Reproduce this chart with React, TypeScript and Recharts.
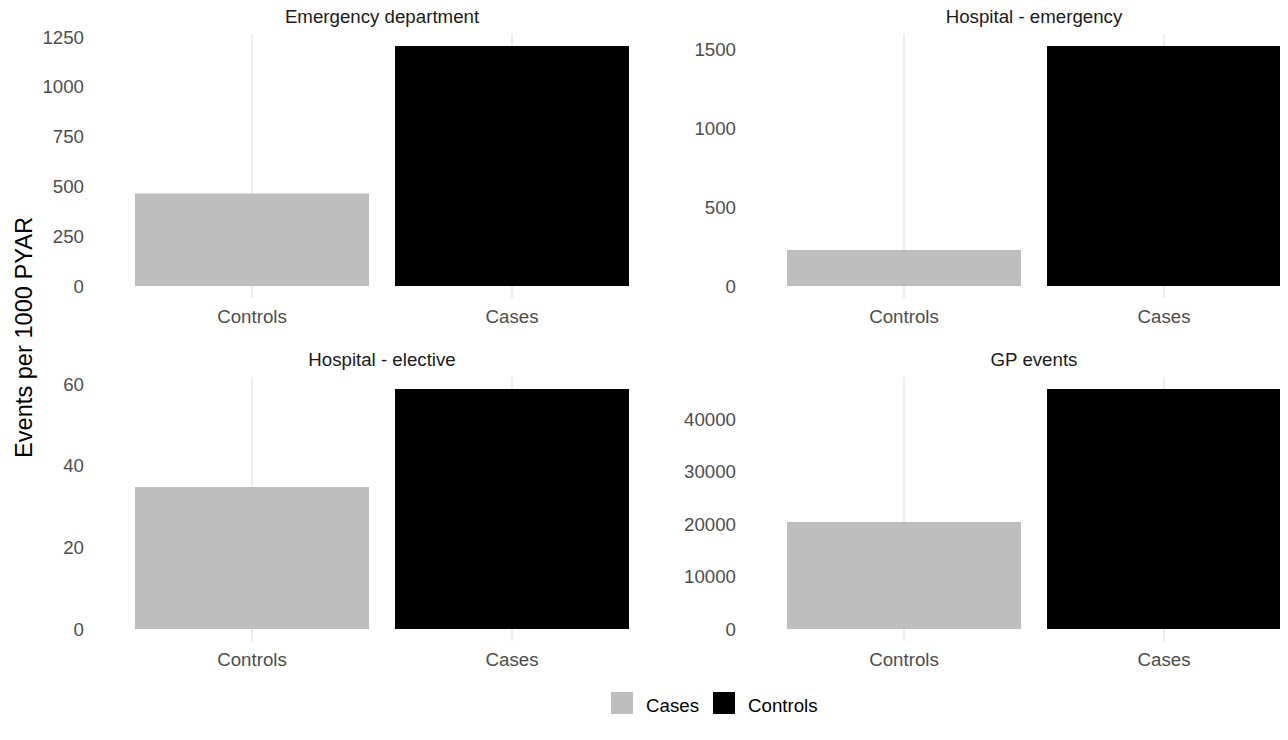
import React from "react";
import { BarChart, Bar, XAxis, YAxis, CartesianGrid, Cell } from "recharts";

// facet panels (ggplot facet_wrap, free y scales)
const groups = ["Controls", "Cases"];
const barColors = ["#BEBEBE", "#000000"];

const edValues = [464, 1205];
const hospEmergencyValues = [228, 1519];
const hospElectiveValues = [34.8, 58.8];
const gpValues = [20420, 45800];

const edTicks = [0, 250, 500, 750, 1000, 1250];
const hospEmergencyTicks = [0, 500, 1000, 1500];
const hospElectiveTicks = [0, 20, 40, 60];
const gpTicks = [0, 10000, 20000, 30000, 40000];

const legendLabels = ["Cases", "Controls"];

const FONT = "'Liberation Sans', Arial, sans-serif";
const PANEL_W = 572;
const AXIS_W = 96;
const CHART_H = 328;

function Panel({ values, ticks }: { values: number[]; ticks: number[] }) {
  const data = groups.map((g, i) => ({ group: g, value: values[i] }));
  const max = Math.max(...values);
  const pad = max * 0.05;
  return (
    <BarChart
      width={AXIS_W + PANEL_W}
      height={CHART_H}
      data={data}
      margin={{ top: 34, right: 0, bottom: 0, left: 0 }}
      barCategoryGap="5%"
    >
      <CartesianGrid
        horizontal={false}
        syncWithTicks
        stroke="#EBEBEB"
        strokeWidth={1.8}
      />
      <XAxis
        dataKey="group"
        height={30}
        padding={{ left: 26, right: 26 }}
        axisLine={false}
        tickLine={false}
        tickSize={0}
        tickMargin={12}
        tick={{ fill: "#4D4D4D", fontSize: 18.7, fontFamily: FONT }}
      />
      <YAxis
        type="number"
        width={AXIS_W}
        domain={[-pad, max + pad]}
        allowDataOverflow
        ticks={ticks}
        axisLine={false}
        tickLine={false}
        tickSize={0}
        tickMargin={12}
        tick={{ fill: "#4D4D4D", fontSize: 18.7, fontFamily: FONT }}
      />
      <Bar dataKey="value" isAnimationActive={false}>
        {data.map((d, i) => (
          <Cell key={d.group} fill={barColors[i]} />
        ))}
      </Bar>
    </BarChart>
  );
}

export default function App() {
  const place = (left: number, top: number): React.CSSProperties => ({
    position: "absolute",
    left,
    top,
  });
  return (
    <div
      style={{
        position: "relative",
        width: 1288,
        height: 740,
        margin: -8,
        overflow: "hidden",
        background: "#fff",
        fontFamily: FONT,
      }}
    >
      <div style={place(0, 0)}>
        <Panel values={edValues} ticks={edTicks} />
      </div>
      <div style={place(652, 0)}>
        <Panel values={hospEmergencyValues} ticks={hospEmergencyTicks} />
      </div>
      <div style={place(0, 343)}>
        <Panel values={hospElectiveValues} ticks={hospElectiveTicks} />
      </div>
      <div style={place(652, 343)}>
        <Panel values={gpValues} ticks={gpTicks} />
      </div>

      <svg
        width={1320}
        height={740}
        style={{ position: "absolute", left: 0, top: 0, pointerEvents: "none" }}
        fontFamily={FONT}
      >
        <g fontSize={18.7} fill="#1A1A1A" textAnchor="middle">
          <text x={382} y={23.3}>Emergency department</text>
          <text x={1034} y={23.3}>Hospital - emergency</text>
          <text x={382} y={366.3}>Hospital - elective</text>
          <text x={1034} y={366.3}>GP events</text>
        </g>
        <text
          x={31.5}
          y={337.5}
          fontSize={23.6}
          fill="#000"
          textAnchor="middle"
          transform="rotate(-90 31.5 337.5)"
        >
          Events per 1000 PYAR
        </text>
        <rect x={611} y={692} width={22} height={22} fill={barColors[0]} />
        <text x={646} y={712.3} fontSize={18.7} fill="#000">
          {legendLabels[0]}
        </text>
        <rect x={713} y={692} width={22} height={22} fill={barColors[1]} />
        <text x={748} y={712.3} fontSize={18.7} fill="#000">
          {legendLabels[1]}
        </text>
      </svg>
    </div>
  );
}
